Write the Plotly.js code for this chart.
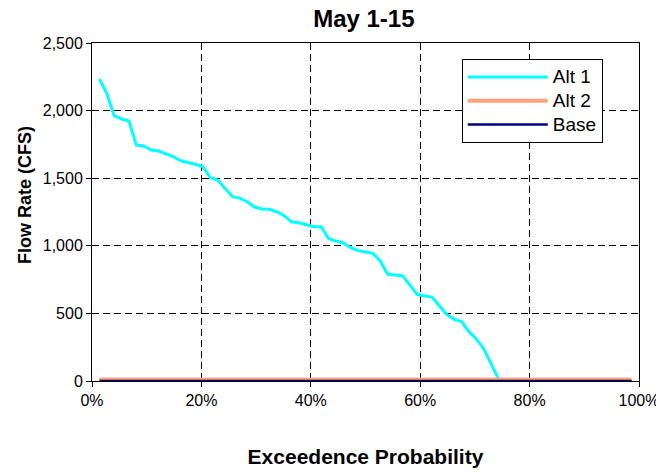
<!DOCTYPE html>
<html>
<head>
<meta charset="utf-8">
<script src="https://cdn.plot.ly/plotly-3.0.1.min.js"></script>
<style>html,body{margin:0;padding:0;background:#fff;}#chart{width:656px;height:472px;}</style>
</head>
<body>
<div id="chart"></div>
<script>
// Exceedence probability for each ranked value (rank / 74)
const nPoints = 73;
const probability = [];
for (let i = 1; i <= nPoints; i++) probability.push(i / 74);

// Flow rates (CFS)
const alt1Flow = [2234, 2128, 1962, 1938, 1923, 1745, 1738, 1708, 1701, 1679,
  1659, 1629, 1617, 1603, 1585, 1505, 1487, 1425, 1363, 1353,
  1326, 1287, 1272, 1270, 1252, 1223, 1178, 1171, 1154, 1141,
  1141, 1054, 1035, 1021, 986, 964, 954, 944, 888, 789,
  784, 779, 710, 641, 629, 621, 555, 492, 456, 439,
  365, 311, 237, 131, 15, 0, 0, 0, 0, 0,
  0, 0, 0, 0, 0, 0, 0, 0, 0, 0,
  0, 0, 0];
const alt2Flow = new Array(nPoints).fill(12);
const baseFlow = new Array(nPoints).fill(0);

const seriesNames = ["Alt 1", "Alt 2", "Base"];
const xTickVals = [0, 0.2, 0.4, 0.6, 0.8, 1.0];
const xTickText = ["0%", "20%", "40%", "60%", "80%", "100%"];
const yTickVals = [0, 500, 1000, 1500, 2000, 2500];
const yTickText = ["0", "500", "1,000", "1,500", "2,000", "2,500"];
const yAxisTitle = "Flow Rate (CFS)";
const xAxisTitle = "Exceedence Probability";
const chartTitle = "May 1-15";

const FONT = "Liberation Sans, Arial, sans-serif";
const legendName = n => '<span style="font-size:19px">' + n + '</span>';

const traces = [
  {x: probability, y: alt1Flow, name: legendName(seriesNames[0]), mode: "lines",
   line: {color: "#00FFFF", width: 3}},
  {x: probability, y: alt2Flow, name: legendName(seriesNames[1]), mode: "lines",
   line: {color: "#FFA47A", width: 4}},
  {x: probability, y: baseFlow, name: legendName(seriesNames[2]), mode: "lines",
   line: {color: "#000080", width: 2.5}}
];

const layout = {
  width: 656, height: 472,
  margin: {l: 92, r: 17, t: 43, b: 91},
  paper_bgcolor: "#fff", plot_bgcolor: "#fff",
  font: {family: FONT, size: 16, color: "#000"},
  title: {text: chartTitle, font: {family: FONT, size: 24, weight: 700, color: "#000"},
          xref: "paper", x: 0.497, xanchor: "center", yref: "container", y: 1 - 19/472, yanchor: "middle"},
  showlegend: true,
  legend: {x: 0.676, y: 0.9527, xanchor: "left", yanchor: "top",
           bgcolor: "#fff", bordercolor: "#000", borderwidth: 1,
           font: {family: FONT, size: 16, color: "#000"}, tracegroupgap: 0,
           itemwidth: 80},
  xaxis: {range: [0, 1], tickvals: xTickVals, ticktext: xTickText,
          showline: true, mirror: true, linecolor: "#000", linewidth: 1,
          ticks: "outside", ticklen: 5, tickcolor: "#000",
          showgrid: true, gridcolor: "#000", griddash: "7px,4px", gridwidth: 1,
          zeroline: false, tickfont: {family: FONT, size: 16}, ticklabeloverflow: "allow",
          title: {text: xAxisTitle, font: {family: FONT, size: 21, weight: 700}, standoff: 41}},
  yaxis: {range: [0, 2500], tickvals: yTickVals, ticktext: yTickText,
          showline: true, mirror: true, linecolor: "#000", linewidth: 1,
          ticks: "outside", ticklen: 5, tickcolor: "#000",
          showgrid: true, gridcolor: "#000", griddash: "7px,4px", gridwidth: 1,
          zeroline: false, tickfont: {family: FONT, size: 16}},
  annotations: [
    {text: yAxisTitle, textangle: -90, showarrow: false,
     xref: "paper", yref: "paper", x: (25 - 92) / 547, y: (381 - 195) / 338,
     xanchor: "center", yanchor: "middle",
     font: {family: FONT, size: 18, weight: 700, color: "#000"}}
  ]
};

Plotly.newPlot("chart", traces, layout, {displayModeBar: false, staticPlot: true});
</script>
</body>
</html>
